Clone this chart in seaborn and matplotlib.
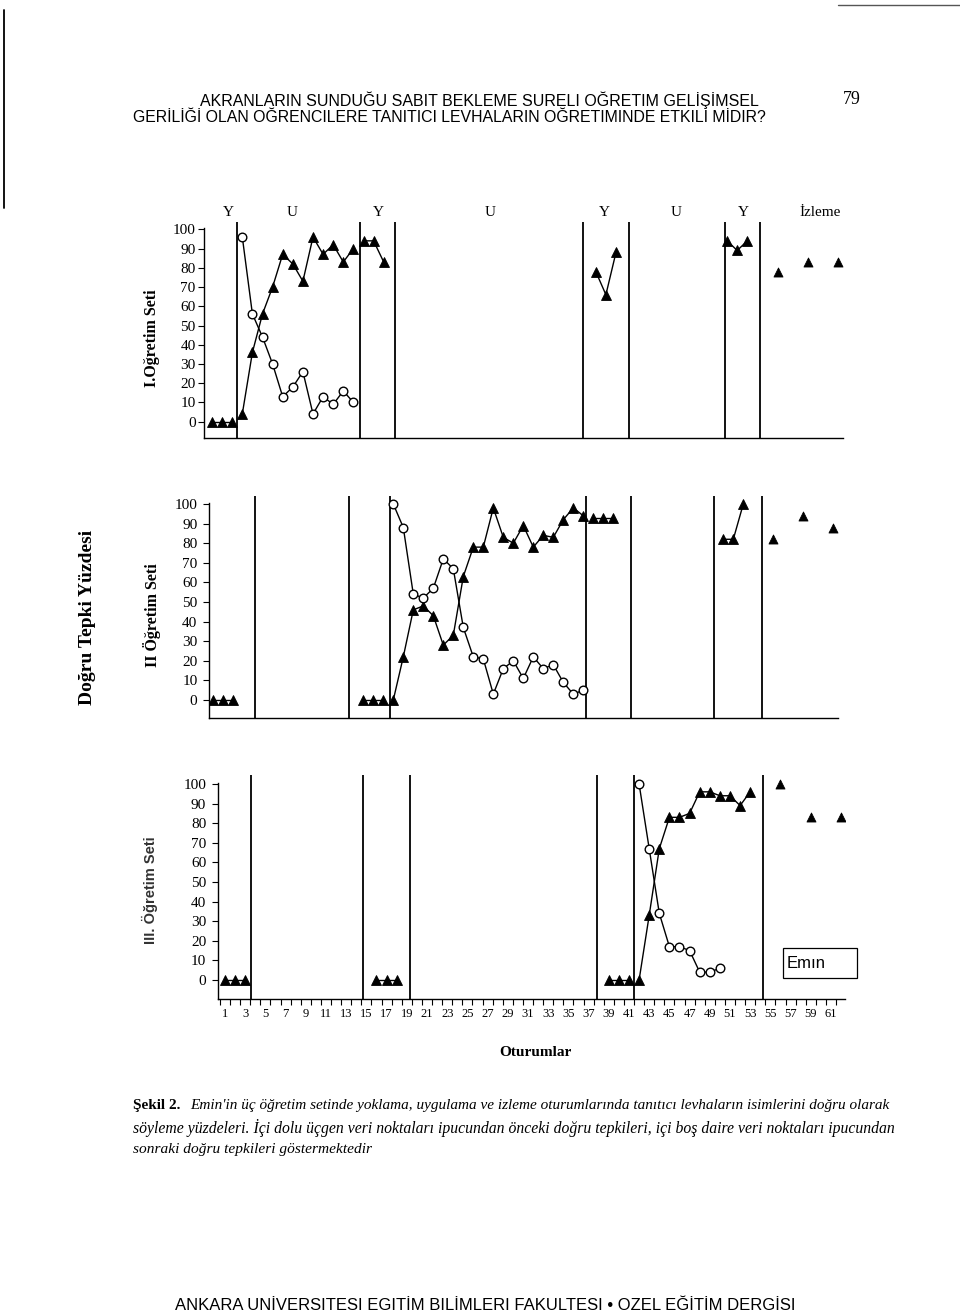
import matplotlib
matplotlib.use("Agg")
import matplotlib.pyplot as plt
from matplotlib.lines import Line2D
from matplotlib.patches import Rectangle
import pandas as pd
import seaborn as sns

# ---------------- data (percent correct) ----------------
# Öğretim Seti I
set1_probe1_x = [1, 2, 3]
set1_probe1_y = [0, 0, 0]
set1_teach_x = [4, 5, 6, 7, 8, 9, 10, 11, 12, 13, 14, 15]
set1_before = [4, 36, 56, 70, 87, 82, 73, 96, 87, 92, 83, 90]     # ipucundan önce (dolu üçgen)
set1_after = [96, 56, 44, 30, 13, 18, 26, 4, 13, 9, 16, 10]       # ipucundan sonra (boş daire)
set1_probe2_x = [16, 17, 18]
set1_probe2_y = [94, 94, 83]
set1_probe3_x = [39, 40, 41]
set1_probe3_y = [78, 66, 88]
set1_probe4_x = [52, 53, 54]
set1_probe4_y = [94, 89, 94]
set1_follow_x = [57, 60, 63]
set1_follow_y = [78, 83, 83]
set1_phase_changes = [3.5, 15.65, 19.1, 37.7, 42.3, 51.8, 55.3]

# Öğretim Seti II
set2_probe1_x = [1, 2, 3]
set2_probe1_y = [0, 0, 0]
set2_probe2_x = [16, 17, 18]
set2_probe2_y = [0, 0, 0]
set2_teach_x = [19, 20, 21, 22, 23, 24, 25, 26, 27, 28, 29, 30, 31, 32, 33, 34, 35, 36, 37, 38]
set2_before = [0, 22, 46, 48, 43, 28, 33, 63, 78, 78, 98, 83, 80, 89, 78, 84, 83, 92, 98, 94]
set2_after = [100, 88, 54, 52, 57, 72, 67, 37, 22, 21, 3, 16, 20, 11, 22, 16, 18, 9, 3, 5]
set2_probe3_x = [39, 40, 41]
set2_probe3_y = [93, 93, 93]
set2_probe4_x = [52, 53, 54]
set2_probe4_y = [82, 82, 100]
set2_follow_x = [57, 60, 63]
set2_follow_y = [82, 94, 88]
set2_phase_changes = [5.15, 14.6, 18.65, 38.25, 42.75, 51.05, 55.85]

# Öğretim Seti III
set3_probe1_x = [1, 2, 3]
set3_probe1_y = [0, 0, 0]
set3_probe2_x = [16, 17, 18]
set3_probe2_y = [0, 0, 0]
set3_probe3_x = [39, 40, 41]
set3_probe3_y = [0, 0, 0]
set3_teach_x = [42, 43, 44, 45, 46, 47, 48, 49, 50, 51, 52, 53]
set3_before = [0, 33, 67, 83, 83, 85, 96, 96, 94, 94, 89, 96]
set3_after_x = [42, 43, 44, 45, 46, 47, 48, 49, 50]
set3_after = [100, 67, 34, 17, 17, 15, 4, 4, 6]
set3_follow_x = [56, 59, 62]
set3_follow_y = [100, 83, 83]
set3_phase_changes = [3.55, 14.65, 19.3, 37.8, 41.45, 54.3]

session_labels = list(range(1, 62, 2))
phase_names = ["Y", "U", "Y", "U", "Y", "U", "Y", "İzleme"]

# ---------------- style ----------------
sns.set_theme(style="white")
SERIF = ["Liberation Serif", "DejaVu Serif"]
SANS = ["Liberation Sans", "DejaVu Sans"]
plt.rcParams["font.family"] = SERIF
plt.rcParams["axes.edgecolor"] = "black"
plt.rcParams["xtick.color"] = "black"
plt.rcParams["ytick.color"] = "black"
plt.rcParams["text.color"] = "black"

W, H = 960, 1315
fig = plt.figure(figsize=(W / 100, H / 100), dpi=100)
fig.patch.set_facecolor("white")


def fx(x):
    return x / W


def fy(y):
    return 1 - y / H


TRI = dict(marker="^", markersize=6.5, markerfacecolor="black",
           markeredgecolor="black", markeredgewidth=0.6)
CIRC = dict(marker="o", markersize=6.2, markerfacecolor="white",
            markeredgecolor="black", markeredgewidth=1.0)


def seg(ax, xs, ys, style, connect=True):
    df = pd.DataFrame({"Oturum": xs, "Yuzde": ys})
    if connect:
        sns.lineplot(data=df, x="Oturum", y="Yuzde", ax=ax, color="black",
                     lw=1.0, estimator=None, sort=False, legend=False, **style)
    else:
        sns.scatterplot(data=df, x="Oturum", y="Yuzde", ax=ax, color="black",
                        marker=style["marker"], s=style["markersize"] ** 2,
                        edgecolor="black", linewidth=0.6, legend=False)
    ax.set_xlabel("")
    ax.set_ylabel("")


def make_panel(L, T, R, B, a, b, y0, y100, labelpad):
    ax = fig.add_axes([fx(L), fy(B), (R - L) / W, (B - T) / H])
    ax.set_facecolor("none")
    ax.set_xlim((L - a) / b + 1, (R - a) / b + 1)
    k = (y0 - y100) / 100.0
    ax.set_ylim((y0 - B) / k, (y0 - T) / k)
    for s in ("top", "right"):
        ax.spines[s].set_visible(False)
    ax.spines["left"].set_bounds((y0 - B) / k, 100.5)
    for s in ("left", "bottom"):
        ax.spines[s].set_linewidth(1.0)
        ax.spines[s].set_color("black")
    ax.set_yticks(range(0, 101, 10))
    ax.tick_params(axis="y", direction="out", length=4, width=0.8,
                   labelsize=11, pad=labelpad, left=True)
    ax.set_xticks([])
    return ax


def finish(ax):
    ax.set_xlabel("")
    ax.set_ylabel("")


# Panel I
ax1 = make_panel(204, 222, 843, 438, 212.0, 10.1, 421.7, 229.3, 2)
for xv in set1_phase_changes:
    ax1.axvline(xv, color="black", lw=1.3)
seg(ax1, set1_probe1_x, set1_probe1_y, TRI)
seg(ax1, set1_teach_x, set1_before, TRI)
seg(ax1, set1_teach_x, set1_after, CIRC)
seg(ax1, set1_probe2_x, set1_probe2_y, TRI)
seg(ax1, set1_probe3_x, set1_probe3_y, TRI)
seg(ax1, set1_probe4_x, set1_probe4_y, TRI)
seg(ax1, set1_follow_x, set1_follow_y, TRI, connect=False)
finish(ax1)

# Panel II
ax2 = make_panel(209.3, 496, 838, 718.3, 213.3, 10.0, 700, 504, 4.5)
for xv in set2_phase_changes:
    ax2.axvline(xv, color="black", lw=1.3)
seg(ax2, set2_probe1_x, set2_probe1_y, TRI)
seg(ax2, set2_probe2_x, set2_probe2_y, TRI)
seg(ax2, set2_teach_x, set2_before, TRI)
seg(ax2, set2_teach_x, set2_after, CIRC)
seg(ax2, set2_probe3_x, set2_probe3_y, TRI)
seg(ax2, set2_probe4_x, set2_probe4_y, TRI)
seg(ax2, set2_follow_x, set2_follow_y, TRI, connect=False)
finish(ax2)

# Panel III
ax3 = make_panel(218, 775, 845, 999.3, 225.0, 10.1, 980, 784, 4.5)
for xv in set3_phase_changes:
    ax3.axvline(xv, color="black", lw=1.3)
seg(ax3, set3_probe1_x, set3_probe1_y, TRI)
seg(ax3, set3_probe2_x, set3_probe2_y, TRI)
seg(ax3, set3_probe3_x, set3_probe3_y, TRI)
seg(ax3, set3_teach_x, set3_before, TRI)
seg(ax3, set3_after_x, set3_after, CIRC)
seg(ax3, set3_follow_x, set3_follow_y, TRI, connect=False)
ax3.set_xticks(session_labels)
ax3.set_xticklabels([str(v) for v in session_labels], fontsize=9)
ax3.set_xticks([v + 0.5 for v in range(0, 62)], minor=True)
ax3.tick_params(axis="x", which="major", length=0, pad=6, bottom=True)
ax3.tick_params(axis="x", which="minor", direction="out", length=4,
                width=0.8, bottom=True)
finish(ax3)

# ---------------- texts ----------------
fig.text(fx(200), fy(100), "AKRANLARIN SUNDUĞU SABIT BEKLEME SURELI OĞRETIM GELİŞİMSEL",
         family=SANS, fontsize=11.55, ha="left", va="center")
fig.text(fx(133), fy(118), "GERİLİĞİ OLAN OĞRENCILERE TANITICI LEVHALARIN OĞRETIMINDE ETKILI MİDIR?",
         family=SANS, fontsize=11.4, ha="left", va="center")
fig.text(fx(852), fy(100), "79", family=SERIF, fontsize=13, ha="center", va="center")

phase_label_x = [228, 292, 378, 490, 604, 676, 743, 820]
for name, xp in zip(phase_names, phase_label_x):
    fig.text(fx(xp), fy(213), name, family=SERIF, fontsize=11, ha="center", va="center")

fig.text(fx(88), fy(617), "Doğru Tepki Yüzdesi", family=SERIF, fontsize=14,
         fontweight="bold", rotation=90, ha="center", va="center")
fig.text(fx(152), fy(338), "I.Oğretim Seti", family=SERIF, fontsize=11.5,
         fontweight="bold", rotation=90, ha="center", va="center")
fig.text(fx(152), fy(615), "II Öğretim Seti", family=SERIF, fontsize=11.5,
         fontweight="bold", rotation=90, ha="center", va="center")
fig.text(fx(150), fy(890), "III. Öğretim Seti", family=SANS, fontsize=10.5,
         fontweight="bold", rotation=90, ha="center", va="center", color="#333333")

fig.text(fx(535), fy(1052), "Oturumlar", family=SERIF, fontsize=11,
         fontweight="bold", ha="center", va="center")

# Emin box
fig.add_artist(Rectangle((fx(783), fy(978)), 74 / W, 30 / H, transform=fig.transFigure,
                         fill=False, edgecolor="black", lw=0.9))
fig.text(fx(787), fy(963), "Emın", family=SANS, fontsize=12, ha="left", va="center")

# caption
fig.text(fx(133), fy(1105), "Şekil 2.", family=SERIF, fontsize=11,
         fontweight="bold", ha="left", va="center")
fig.text(fx(190), fy(1105),
         "Emin'in üç öğretim setinde yoklama, uygulama ve izleme oturumlarında tanıtıcı levhaların isimlerini doğru olarak",
         family=SERIF, fontsize=10.95, style="italic", ha="left", va="center")
fig.text(fx(133), fy(1128),
         "söyleme yüzdeleri. İçi dolu üçgen veri noktaları ipucundan önceki doğru tepkileri, içi boş daire veri noktaları ipucundan",
         family=SERIF, fontsize=11.35, style="italic", ha="left", va="center")
fig.text(fx(133), fy(1150), "sonraki doğru tepkileri göstermektedir",
         family=SERIF, fontsize=11.1, style="italic", ha="left", va="center")

fig.text(fx(175), fy(1306),
         "ANKARA UNİVERSITESI EGITİM BILİMLERI FAKULTESI • OZEL EĞİTİM DERGİSI",
         family=SANS, fontsize=12, ha="left", va="center")

# scan edge marks
fig.add_artist(Line2D([fx(4), fx(4)], [fy(10), fy(208)], color="black", lw=1.3))
fig.add_artist(Line2D([fx(838), fx(960)], [fy(5), fy(5)], color="#555555", lw=1.0))

fig.savefig("out.png", dpi=100, facecolor="white")
